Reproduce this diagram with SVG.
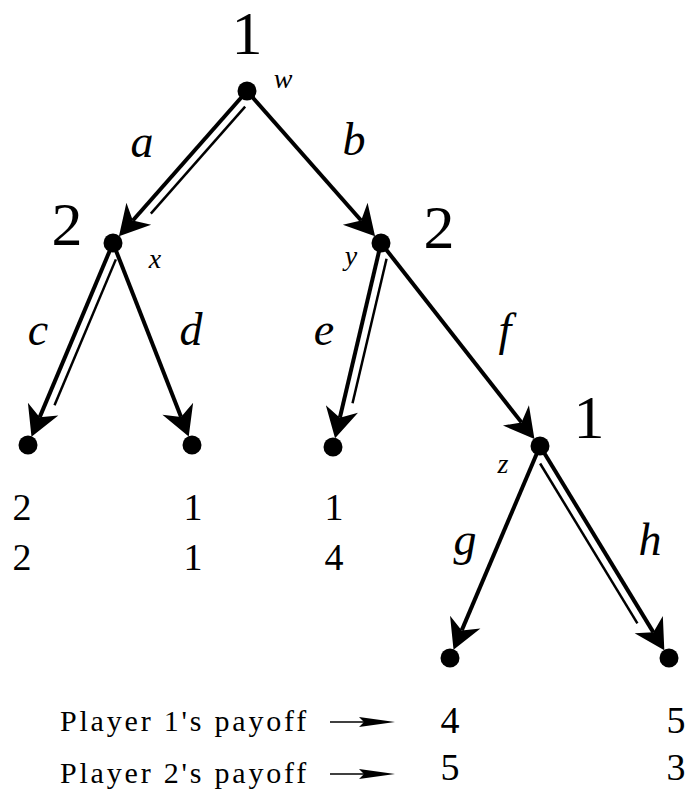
<svg xmlns="http://www.w3.org/2000/svg" width="686" height="793" viewBox="0 0 686 793">
<style>
.dot{fill:#000}
.main{stroke:#000;stroke-width:4;fill:none}
.thin{stroke:#000;stroke-width:2.5;fill:none}
text{font-family:"Liberation Serif","Times New Roman",Times,"DejaVu Serif",serif;fill:#000}
.big{font-size:62px;text-anchor:middle}
.lab{font-style:italic;font-size:46px;text-anchor:middle}
.small{font-style:italic;font-size:28px;text-anchor:middle}
.pay{font-size:38px;text-anchor:middle}
.leg{font-size:30px;letter-spacing:2.8px}
</style>
<defs>
<path id="ah" d="M0,0 L-30,-16.5 L-21,0 L-30,16.5 Z" fill="#000"/>
</defs>
<rect width="686" height="793" fill="#fff"/>
<g id="connectors">
<line class="main" x1="247" y1="91" x2="132.84" y2="220.5"/>
<line class="thin" x1="245.15" y1="106.7" x2="150.85" y2="213.65"/>
<use href="#ah" transform="translate(118.95,236.25) rotate(131.4)"/>
<line class="main" x1="247" y1="91" x2="361.16" y2="220.5"/>
<use href="#ah" transform="translate(375.05,236.25) rotate(48.6)"/>
<line class="main" x1="113" y1="243" x2="39.63" y2="417.36"/>
<line class="thin" x1="115.86" y1="259.39" x2="54.51" y2="405.19"/>
<use href="#ah" transform="translate(31.49,436.71) rotate(112.8)"/>
<line class="main" x1="113" y1="243" x2="181.07" y2="417.06"/>
<use href="#ah" transform="translate(188.72,436.62) rotate(68.6)"/>
<line class="main" x1="381" y1="243" x2="339.87" y2="417.8"/>
<line class="thin" x1="386.55" y1="258.69" x2="352.52" y2="403.32"/>
<use href="#ah" transform="translate(335.06,438.24) rotate(103.2)"/>
<line class="main" x1="381" y1="243" x2="521.5" y2="422.39"/>
<use href="#ah" transform="translate(534.45,438.92) rotate(51.9)"/>
<line class="main" x1="540" y1="446" x2="461.73" y2="630.39"/>
<use href="#ah" transform="translate(453.52,649.72) rotate(113)"/>
<line class="main" x1="540" y1="446" x2="653.4" y2="632.37"/>
<line class="thin" x1="540.11" y1="463.49" x2="637.41" y2="623.38"/>
<use href="#ah" transform="translate(664.32,650.31) rotate(58.7)"/>
<text class="lab" x="142" y="157">a</text>
<text class="lab" x="354" y="155">b</text>
<text class="lab" x="38" y="345">c</text>
<text class="lab" x="191" y="345">d</text>
<text class="lab" x="324" y="345">e</text>
<text class="lab" x="505" y="345">f</text>
<text class="lab" x="465" y="555">g</text>
<text class="lab" x="650" y="555">h</text>
</g>
<g id="node-w">
<circle class="dot" cx="247" cy="91" r="9.5"/>
<text class="big" x="247" y="54">1</text>
<text class="small" x="283" y="88">w</text>
</g>
<g id="node-x">
<circle class="dot" cx="113" cy="243" r="9.5"/>
<text class="big" x="67" y="245">2</text>
<text class="small" x="155" y="268">x</text>
</g>
<g id="node-y">
<circle class="dot" cx="381" cy="243" r="9.5"/>
<text class="big" x="439" y="248">2</text>
<text class="small" x="351" y="265">y</text>
</g>
<g id="node-z">
<circle class="dot" cx="540" cy="446" r="9.5"/>
<text class="big" x="589" y="438">1</text>
<text class="small" x="503" y="473">z</text>
</g>
<g id="leaf-c">
<circle class="dot" cx="28" cy="445" r="9.5"/>
<text class="pay" x="22" y="520">2</text>
<text class="pay" x="22" y="570">2</text>
</g>
<g id="leaf-d">
<circle class="dot" cx="192" cy="445" r="9.5"/>
<text class="pay" x="193" y="520">1</text>
<text class="pay" x="193" y="570">1</text>
</g>
<g id="leaf-e">
<circle class="dot" cx="333" cy="447" r="9.5"/>
<text class="pay" x="334" y="520">1</text>
<text class="pay" x="334" y="570">4</text>
</g>
<g id="leaf-g">
<circle class="dot" cx="450" cy="658" r="9.5"/>
<text class="pay" x="450" y="733">4</text>
<text class="pay" x="450" y="780">5</text>
</g>
<g id="leaf-h">
<circle class="dot" cx="669" cy="658" r="9.5"/>
<text class="pay" x="676" y="733">5</text>
<text class="pay" x="676" y="780">3</text>
</g>
<g id="legend">
<text class="leg" x="60" y="731">Player 1's payoff</text>
<text class="leg" x="60" y="783">Player 2's payoff</text>
<line x1="330" y1="722" x2="364" y2="722" stroke="#000" stroke-width="1.5"/>
<path d="M395,722 L359,717 L364,722 L359,727 Z" fill="#000"/>
<line x1="330" y1="774" x2="364" y2="774" stroke="#000" stroke-width="1.5"/>
<path d="M395,774 L359,769 L364,774 L359,779 Z" fill="#000"/>
</g>
</svg>
